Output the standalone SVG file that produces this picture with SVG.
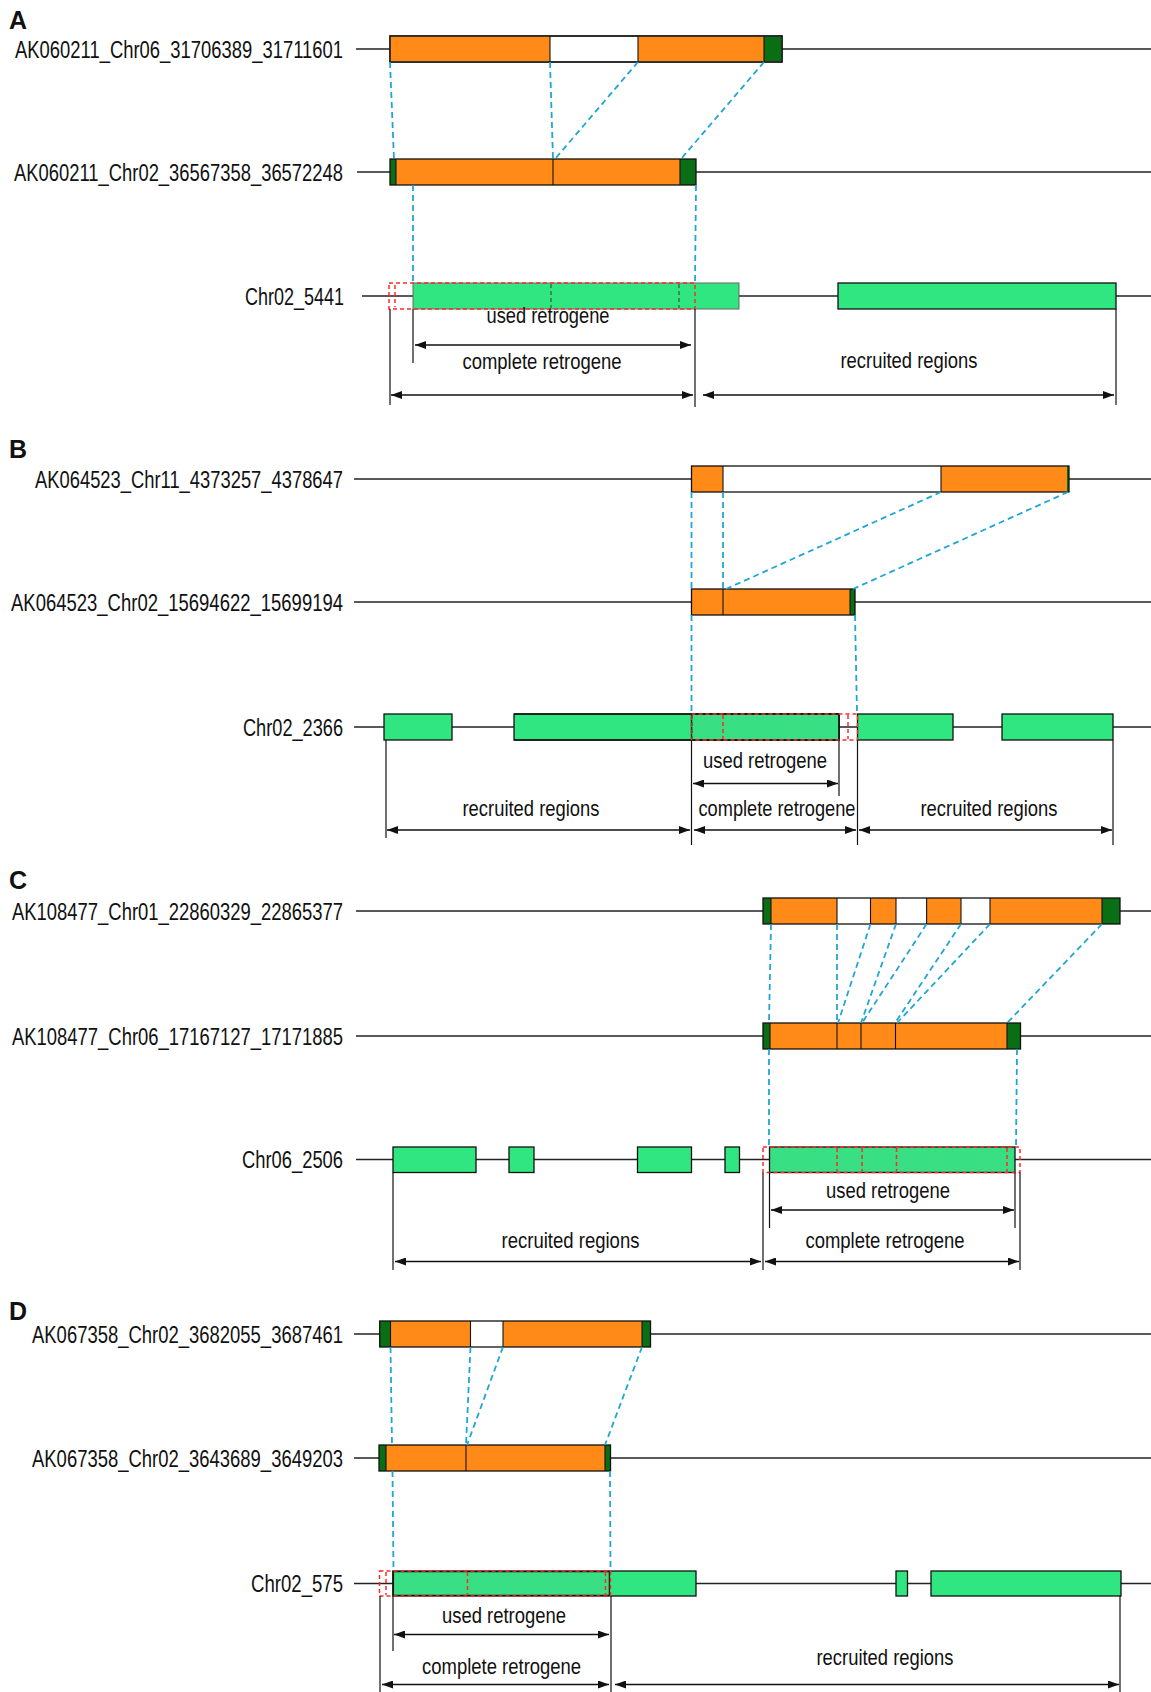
<svg xmlns="http://www.w3.org/2000/svg" width="1151" height="1692" viewBox="0 0 1151 1692">
<style>
text{font-family:"Liberation Sans",Arial,sans-serif;fill:#111}
.pl{font-size:25px;font-weight:bold}
.lb{font-size:23.5px;text-anchor:end}
.an{font-size:22px;text-anchor:middle}
.row{stroke:#222;stroke-width:1.5;fill:none}
.box{stroke:#111;stroke-width:1.3}
.or{fill:#ff8a17}
.wh{fill:#fff}
.dg{fill:#0a6e14}
.gr{fill:#2fe681;stroke:#111;stroke-width:1.3}
.gr2{fill:#2fe681;stroke:#666;stroke-width:1}
.rt{fill:url(#tex);stroke:#111;stroke-width:1.3}
.dv{stroke:#111;stroke-width:1.1}
.bl{stroke:#1fa6d3;stroke-width:1.8;stroke-dasharray:6 4;fill:none}
.rd{stroke:#ff2a2a;stroke-width:1.5;stroke-dasharray:4 3;fill:none}
.dd{stroke:#3a5a2a;stroke-width:1.2;stroke-dasharray:4 3;fill:none}
.vx{stroke:#111;stroke-width:1.2}
.ar{stroke:#111;stroke-width:1.6;marker-start:url(#ah);marker-end:url(#ah)}
</style>
<defs>
<marker id="ah" viewBox="0 0 11 8" refX="11" refY="4" markerWidth="11" markerHeight="8" markerUnits="userSpaceOnUse" orient="auto-start-reverse">
<path d="M0,0 L11,4 L0,8 Z" fill="#111"/>
</marker>
<pattern id="tex" width="6" height="6" patternUnits="userSpaceOnUse">
<rect width="6" height="6" fill="#33e283"/>
<circle cx="1.5" cy="1.5" r="1" fill="#52cf86"/>
<circle cx="4.5" cy="4.5" r="1" fill="#52cf86"/>
</pattern>
</defs>

<!-- Panel labels -->
<g id="panel-labels">
<text class="pl" x="9" y="29">A</text>
<text class="pl" x="9" y="458">B</text>
<text class="pl" x="9" y="889">C</text>
<text class="pl" x="9" y="1320">D</text>
</g>

<!-- ================= Panel A ================= -->
<g id="A-row1">
<text class="lb" x="343" y="57.5" textLength="328" lengthAdjust="spacingAndGlyphs">AK060211_Chr06_31706389_31711601</text>
<line class="row" x1="356" y1="49" x2="1151" y2="49"/>
<rect class="box wh" x="390" y="36" width="392" height="26"/>
<rect class="or" x="390.6" y="36.6" width="159.4" height="24.8"/>
<rect class="or" x="638" y="36.6" width="126" height="24.8"/>
<rect class="dg" x="764" y="36.6" width="17.4" height="24.8"/>
<line class="dv" x1="550" y1="36" x2="550" y2="62"/>
<line class="dv" x1="638" y1="36" x2="638" y2="62"/>
<line class="dv" x1="764" y1="36" x2="764" y2="62"/>
<rect x="390" y="36" width="392" height="26" fill="none" stroke="#111" stroke-width="1.3"/>
</g>
<g id="A-row2">
<text class="lb" x="343" y="180.5" textLength="329" lengthAdjust="spacingAndGlyphs">AK060211_Chr02_36567358_36572248</text>
<line class="row" x1="357" y1="172" x2="1151" y2="172"/>
<rect class="or" x="390" y="159" width="306" height="26"/>
<rect class="dg" x="390" y="159" width="6" height="26"/>
<rect class="dg" x="680" y="159" width="16" height="26"/>
<line class="dv" x1="396" y1="159" x2="396" y2="185"/>
<line class="dv" x1="553" y1="159" x2="553" y2="185"/>
<line class="dv" x1="680" y1="159" x2="680" y2="185"/>
<rect x="390" y="159" width="306" height="26" fill="none" stroke="#111" stroke-width="1.3"/>
</g>
<g id="A-row3">
<text class="lb" x="344" y="305" textLength="99" lengthAdjust="spacingAndGlyphs">Chr02_5441</text>
<line class="row" x1="362" y1="296" x2="1151" y2="296"/>
<rect class="gr2" x="413" y="283" width="326" height="26"/>
<rect class="gr" x="838" y="283" width="278" height="26"/>
<rect class="rd" x="389" y="283" width="306" height="26"/>
<line class="rd" x1="395" y1="285" x2="395" y2="307"/>
<line class="dd" x1="551" y1="284" x2="551" y2="308"/>
<line class="dd" x1="679" y1="284" x2="679" y2="308"/>
</g>
<g id="A-annotations">
<line class="vx" x1="390" y1="309" x2="390" y2="405"/>
<line class="vx" x1="413" y1="309" x2="413" y2="363"/>
<line class="vx" x1="695" y1="309" x2="695" y2="407"/>
<line class="vx" x1="1116" y1="309" x2="1116" y2="405"/>
<text class="an" x="548" y="323" textLength="123" lengthAdjust="spacingAndGlyphs">used retrogene</text>
<text class="an" x="542" y="369" textLength="159" lengthAdjust="spacingAndGlyphs">complete retrogene</text>
<text class="an" x="909" y="368" textLength="137" lengthAdjust="spacingAndGlyphs">recruited regions</text>
</g>

<!-- ================= Panel B ================= -->
<g id="B-row1">
<text class="lb" x="343" y="487.5" textLength="308" lengthAdjust="spacingAndGlyphs">AK064523_Chr11_4373257_4378647</text>
<line class="row" x1="354" y1="479" x2="1151" y2="479"/>
<rect class="wh" x="691.5" y="466" width="377.5" height="26"/>
<rect class="or" x="691.5" y="466" width="31.5" height="26"/>
<rect class="or" x="941" y="466" width="126" height="26"/>
<rect class="dg" x="1067" y="466" width="2" height="26"/>
<line class="dv" x1="723" y1="466" x2="723" y2="492"/>
<line class="dv" x1="941" y1="466" x2="941" y2="492"/>
<rect x="691.5" y="466" width="377.5" height="26" fill="none" stroke="#111" stroke-width="1.3"/>
</g>
<g id="B-row2">
<text class="lb" x="343" y="610.5" textLength="332" lengthAdjust="spacingAndGlyphs">AK064523_Chr02_15694622_15699194</text>
<line class="row" x1="354" y1="602" x2="1151" y2="602"/>
<rect class="or" x="691.5" y="589" width="163.5" height="26"/>
<rect class="dg" x="850" y="589" width="5" height="26"/>
<line class="dv" x1="723" y1="589" x2="723" y2="615"/>
<line class="dv" x1="850" y1="589" x2="850" y2="615"/>
<rect x="691.5" y="589" width="163.5" height="26" fill="none" stroke="#111" stroke-width="1.3"/>
</g>
<g id="B-row3">
<text class="lb" x="343" y="735.5" textLength="100" lengthAdjust="spacingAndGlyphs">Chr02_2366</text>
<line class="row" x1="354" y1="727" x2="1151" y2="727"/>
<rect class="gr" x="384" y="714" width="68" height="26"/>
<rect class="gr" x="514" y="714" width="325" height="26"/>
<rect class="rt" x="691.5" y="714" width="147.5" height="26" stroke="none"/>
<line x1="514" y1="714" x2="839" y2="714" stroke="#111" stroke-width="1.3"/>
<line x1="514" y1="740" x2="839" y2="740" stroke="#111" stroke-width="1.3"/>
<line x1="839" y1="714" x2="839" y2="740" stroke="#111" stroke-width="1.3"/>
<rect class="gr" x="857.5" y="714" width="95.5" height="26"/>
<rect class="gr" x="1002" y="714" width="111" height="26"/>
<rect class="rd" x="691.5" y="714" width="166" height="26"/>
<line class="rd" x1="723" y1="715" x2="723" y2="739"/>
<line class="rd" x1="848" y1="715" x2="848" y2="739"/>
<line class="dd" x1="692" y1="715" x2="692" y2="739"/>
</g>
<g id="B-annotations">
<line class="vx" x1="386" y1="740" x2="386" y2="838"/>
<line class="vx" x1="691.5" y1="740" x2="691.5" y2="845"/>
<line class="vx" x1="839" y1="740" x2="839" y2="796"/>
<line class="vx" x1="857.5" y1="740" x2="857.5" y2="845"/>
<line class="vx" x1="1113" y1="740" x2="1113" y2="845"/>
<text class="an" x="765" y="768" textLength="124" lengthAdjust="spacingAndGlyphs">used retrogene</text>
<text class="an" x="777" y="816" textLength="157" lengthAdjust="spacingAndGlyphs">complete retrogene</text>
<text class="an" x="531" y="816" textLength="137" lengthAdjust="spacingAndGlyphs">recruited regions</text>
<text class="an" x="989" y="816" textLength="137" lengthAdjust="spacingAndGlyphs">recruited regions</text>
</g>

<!-- ================= Panel C ================= -->
<g id="C-row1">
<text class="lb" x="343" y="919.5" textLength="331" lengthAdjust="spacingAndGlyphs">AK108477_Chr01_22860329_22865377</text>
<line class="row" x1="356" y1="911" x2="1151" y2="911"/>
<rect class="wh" x="763" y="898" width="357" height="26"/>
<rect class="dg" x="763" y="898" width="8" height="26"/>
<rect class="or" x="771" y="898" width="66" height="26"/>
<rect class="or" x="870.5" y="898" width="25.5" height="26"/>
<rect class="or" x="926.6" y="898" width="34.4" height="26"/>
<rect class="or" x="990" y="898" width="112" height="26"/>
<rect class="dg" x="1102" y="898" width="18" height="26"/>
<line class="dv" x1="771" y1="898" x2="771" y2="924"/>
<line class="dv" x1="837" y1="898" x2="837" y2="924"/>
<line class="dv" x1="870.5" y1="898" x2="870.5" y2="924"/>
<line class="dv" x1="896" y1="898" x2="896" y2="924"/>
<line class="dv" x1="926.6" y1="898" x2="926.6" y2="924"/>
<line class="dv" x1="961" y1="898" x2="961" y2="924"/>
<line class="dv" x1="990" y1="898" x2="990" y2="924"/>
<line class="dv" x1="1102" y1="898" x2="1102" y2="924"/>
<rect x="763" y="898" width="357" height="26" fill="none" stroke="#111" stroke-width="1.3"/>
</g>
<g id="C-row2">
<text class="lb" x="343" y="1044.5" textLength="331" lengthAdjust="spacingAndGlyphs">AK108477_Chr06_17167127_17171885</text>
<line class="row" x1="356" y1="1036" x2="1151" y2="1036"/>
<rect class="or" x="763" y="1023" width="257.5" height="26"/>
<rect class="dg" x="763" y="1023" width="7" height="26"/>
<rect class="dg" x="1007" y="1023" width="13.5" height="26"/>
<line class="dv" x1="770" y1="1023" x2="770" y2="1049"/>
<line class="dv" x1="837" y1="1023" x2="837" y2="1049"/>
<line class="dv" x1="861" y1="1023" x2="861" y2="1049"/>
<line class="dv" x1="895.5" y1="1023" x2="895.5" y2="1049"/>
<line class="dv" x1="1007" y1="1023" x2="1007" y2="1049"/>
<rect x="763" y="1023" width="257.5" height="26" fill="none" stroke="#111" stroke-width="1.3"/>
</g>
<g id="C-row3">
<text class="lb" x="343" y="1168" textLength="101" lengthAdjust="spacingAndGlyphs">Chr06_2506</text>
<line class="row" x1="356" y1="1159.5" x2="1151" y2="1159.5"/>
<rect class="gr" x="393" y="1147" width="83" height="25.5"/>
<rect class="gr" x="509" y="1147" width="25" height="25.5"/>
<rect class="gr" x="637.5" y="1147" width="54" height="25.5"/>
<rect class="gr" x="725" y="1147" width="14.5" height="25.5"/>
<rect class="rt" x="769.5" y="1147" width="245.5" height="25.5"/>
<rect class="rd" x="763" y="1147" width="257" height="25.5"/>
<line class="rd" x1="837" y1="1148" x2="837" y2="1171.5"/>
<line class="rd" x1="862" y1="1148" x2="862" y2="1171.5"/>
<line class="rd" x1="896.5" y1="1148" x2="896.5" y2="1171.5"/>
<line class="rd" x1="1007" y1="1148" x2="1007" y2="1171.5"/>
</g>
<g id="C-annotations">
<line class="vx" x1="393" y1="1172.5" x2="393" y2="1270"/>
<line class="vx" x1="763" y1="1172.5" x2="763" y2="1270"/>
<line class="vx" x1="769.5" y1="1172.5" x2="769.5" y2="1228"/>
<line class="vx" x1="1015" y1="1172.5" x2="1015" y2="1228"/>
<line class="vx" x1="1020" y1="1172.5" x2="1020" y2="1270"/>
<text class="an" x="888" y="1198" textLength="124" lengthAdjust="spacingAndGlyphs">used retrogene</text>
<text class="an" x="885" y="1247.5" textLength="159" lengthAdjust="spacingAndGlyphs">complete retrogene</text>
<text class="an" x="570.5" y="1247.5" textLength="138" lengthAdjust="spacingAndGlyphs">recruited regions</text>
</g>

<!-- ================= Panel D ================= -->
<g id="D-row1">
<text class="lb" x="343" y="1342.5" textLength="311" lengthAdjust="spacingAndGlyphs">AK067358_Chr02_3682055_3687461</text>
<line class="row" x1="354" y1="1334" x2="1151" y2="1334"/>
<rect class="wh" x="379.7" y="1321" width="270.8" height="26"/>
<rect class="dg" x="379.7" y="1321" width="10.8" height="26"/>
<rect class="or" x="390.5" y="1321" width="80" height="26"/>
<rect class="or" x="503" y="1321" width="139" height="26"/>
<rect class="dg" x="642" y="1321" width="8.5" height="26"/>
<line class="dv" x1="390.5" y1="1321" x2="390.5" y2="1347"/>
<line class="dv" x1="470.5" y1="1321" x2="470.5" y2="1347"/>
<line class="dv" x1="503" y1="1321" x2="503" y2="1347"/>
<line class="dv" x1="642" y1="1321" x2="642" y2="1347"/>
<rect x="379.7" y="1321" width="270.8" height="26" fill="none" stroke="#111" stroke-width="1.3"/>
</g>
<g id="D-row2">
<text class="lb" x="343" y="1466.5" textLength="311" lengthAdjust="spacingAndGlyphs">AK067358_Chr02_3643689_3649203</text>
<line class="row" x1="354" y1="1458" x2="1151" y2="1458"/>
<rect class="or" x="379" y="1445" width="231.5" height="26"/>
<rect class="dg" x="379" y="1445" width="7" height="26"/>
<rect class="dg" x="605" y="1445" width="5.5" height="26"/>
<line class="dv" x1="386" y1="1445" x2="386" y2="1471"/>
<line class="dv" x1="466" y1="1445" x2="466" y2="1471"/>
<line class="dv" x1="605" y1="1445" x2="605" y2="1471"/>
<rect x="379" y="1445" width="231.5" height="26" fill="none" stroke="#111" stroke-width="1.3"/>
</g>
<g id="D-row3">
<text class="lb" x="343" y="1592" textLength="92" lengthAdjust="spacingAndGlyphs">Chr02_575</text>
<line class="row" x1="354" y1="1583.5" x2="1151" y2="1583.5"/>
<rect class="gr" x="392.8" y="1571" width="303.2" height="25"/>
<rect class="rt" x="393.4" y="1571.6" width="216" height="23.8" stroke="none"/>
<rect class="gr" x="896" y="1571" width="11.5" height="25"/>
<rect class="gr" x="931" y="1571" width="190" height="25"/>
<rect class="rd" x="379.5" y="1571" width="231" height="25"/>
<line class="rd" x1="386" y1="1572" x2="386" y2="1595"/>
<line class="rd" x1="467.5" y1="1572" x2="467.5" y2="1595"/>
<line class="rd" x1="605.5" y1="1572" x2="605.5" y2="1595"/>
</g>
<g id="D-annotations">
<line class="vx" x1="380" y1="1596" x2="380" y2="1692"/>
<line class="vx" x1="393" y1="1596" x2="393" y2="1651"/>
<line class="vx" x1="611" y1="1596" x2="611" y2="1692"/>
<line class="vx" x1="1120" y1="1596" x2="1120" y2="1692"/>
<text class="an" x="504" y="1623" textLength="124" lengthAdjust="spacingAndGlyphs">used retrogene</text>
<text class="an" x="501.6" y="1673.5" textLength="159" lengthAdjust="spacingAndGlyphs">complete retrogene</text>
<text class="an" x="885" y="1665" textLength="137" lengthAdjust="spacingAndGlyphs">recruited regions</text>
</g>

<!-- ================= Connectors ================= -->
<g id="connectors">
<!-- A mappings -->
<line class="bl" x1="390" y1="62" x2="394" y2="159"/>
<line class="bl" x1="550" y1="62" x2="553" y2="159"/>
<line class="bl" x1="638" y1="62" x2="555" y2="159"/>
<line class="bl" x1="764" y1="62" x2="681" y2="159"/>
<line class="bl" x1="413" y1="185" x2="413" y2="283"/>
<line class="bl" x1="696" y1="185" x2="695" y2="283"/>
<!-- B mappings -->
<line class="bl" x1="691.5" y1="492" x2="691.5" y2="589"/>
<line class="bl" x1="723" y1="492" x2="723" y2="589"/>
<line class="bl" x1="941" y1="492" x2="726" y2="589"/>
<line class="bl" x1="1068" y1="492" x2="853" y2="589"/>
<line class="bl" x1="691.5" y1="615" x2="691.5" y2="714"/>
<line class="bl" x1="855" y1="615" x2="857" y2="714"/>
<!-- C mappings -->
<line class="bl" x1="771" y1="924" x2="769" y2="1023"/>
<line class="bl" x1="837" y1="924" x2="837" y2="1023"/>
<line class="bl" x1="870.5" y1="924" x2="838" y2="1023"/>
<line class="bl" x1="896" y1="924" x2="861" y2="1023"/>
<line class="bl" x1="926.6" y1="924" x2="862" y2="1023"/>
<line class="bl" x1="961" y1="924" x2="895" y2="1023"/>
<line class="bl" x1="990" y1="924" x2="897" y2="1023"/>
<line class="bl" x1="1102" y1="924" x2="1007" y2="1023"/>
<line class="bl" x1="769" y1="1049" x2="769" y2="1147"/>
<line class="bl" x1="1017" y1="1049" x2="1016" y2="1147"/>
<!-- D mappings -->
<line class="bl" x1="390.5" y1="1347" x2="392" y2="1445"/>
<line class="bl" x1="470.5" y1="1347" x2="466" y2="1445"/>
<line class="bl" x1="503" y1="1347" x2="467" y2="1445"/>
<line class="bl" x1="642" y1="1347" x2="605" y2="1445"/>
<line class="bl" x1="392.5" y1="1471" x2="393.5" y2="1571"/>
<line class="bl" x1="610" y1="1471" x2="610.5" y2="1571"/>
<!-- dimension arrows -->
<line class="ar" x1="415" y1="345" x2="691" y2="345"/>
<line class="ar" x1="391" y1="395" x2="693" y2="395"/>
<line class="ar" x1="703" y1="395" x2="1114" y2="395"/>
<line class="ar" x1="693" y1="783.5" x2="838" y2="783.5"/>
<line class="ar" x1="387" y1="830" x2="690" y2="830"/>
<line class="ar" x1="694" y1="830" x2="856" y2="830"/>
<line class="ar" x1="859" y1="830" x2="1112" y2="830"/>
<line class="ar" x1="771" y1="1210" x2="1014" y2="1210"/>
<line class="ar" x1="395" y1="1261.5" x2="761" y2="1261.5"/>
<line class="ar" x1="765" y1="1261.5" x2="1019" y2="1261.5"/>
<line class="ar" x1="394" y1="1634.5" x2="609" y2="1634.5"/>
<line class="ar" x1="382" y1="1684.5" x2="609" y2="1684.5"/>
<line class="ar" x1="615" y1="1684.5" x2="1119" y2="1684.5"/>
</g>
</svg>
